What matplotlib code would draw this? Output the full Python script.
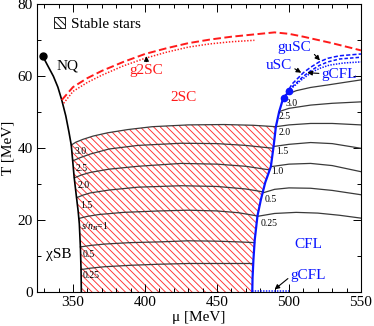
import numpy as np
import matplotlib
matplotlib.use("Agg")
import matplotlib.pyplot as plt
from matplotlib.patches import Patch

plt.rcParams['font.family'] = ['Liberation Serif', 'DejaVu Serif']
plt.rcParams['mathtext.fontset'] = 'custom'
plt.rcParams['mathtext.rm'] = 'Liberation Serif'
plt.rcParams['mathtext.it'] = 'Liberation Serif:italic'
plt.rcParams['hatch.linewidth'] = 0.65
plt.rcParams['lines.scale_dashes'] = False

# ---------------- data ----------------
# NQ / chiral transition line (black)
nq_mu = np.array([329, 332, 336.4, 339.5, 342.2, 345, 347.2, 348.8, 349.8, 350.8, 352.4, 353.6, 354.4, 355.2, 355.6, 355.8])
nq_T = np.array([65.6, 63.3, 60, 57, 53.4, 49, 44.5, 40.9, 36.5, 32, 26.5, 22.5, 19, 12, 6, 0])

# 2SC boundary (red dashed) and g2SC (red dotted)
sc2_mu = np.array([342.2, 350, 360, 370, 385, 400, 415, 430, 445, 460, 475, 490, 500, 510, 520, 530, 540, 550])
sc2_T = np.array([53.4, 57, 59.5, 61.5, 64, 66.2, 67.8, 69.2, 70.2, 71, 71.6, 72.2, 71.8, 71.0, 70.1, 69.2, 68.2, 67.2])
g2sc_mu = np.array([343.5, 350, 360, 370, 385, 400, 415, 430, 445, 460, 476])
g2sc_T = np.array([52.5, 55.8, 58.3, 60.3, 62.9, 65.0, 66.7, 68.1, 69.0, 69.6, 70.0])

# CFL boundary (blue solid)
cfl_mu = np.array([474.5, 474.7, 475.3, 476.2, 478.1, 480.4, 483.5, 487.4, 489.3, 490.9, 493.2, 495.6, 496.3, 500.2])
cfl_T = np.array([0, 4, 9, 14.5, 21.2, 25.6, 30.5, 34.9, 40.5, 46, 50.2, 53.4, 54.0, 55.9])
dots_mu = [496.3, 500.2]
dots_T = [54.0, 55.9]

# guSC / uSC / gCFL lines (blue)
gusc_mu = np.array([500.2, 502, 505, 510, 515, 521, 527, 535, 550])
gusc_T = np.array([56.5, 57.8, 59.0, 61.0, 62.5, 64.0, 65.0, 65.7, 66.2])
usc_mu = np.array([499.5, 502, 505, 510, 515, 521, 527, 535, 550])
usc_T = np.array([55.9, 57.0, 58.1, 60.0, 61.5, 63.0, 64.0, 64.8, 65.3])
gcfl_mu = np.array([498, 500, 503.4, 508, 516, 522, 528, 538, 550])
gcfl_T = np.array([55.5, 56.2, 57.2, 58.8, 61.2, 62.3, 63.1, 63.7, 64.0])
gcfl0_mu = np.array([474.5, 500])
gcfl0_T = np.array([0.4, 0.4])

# isentropes in the hatched (stable stars) region, s/n_B values
left_labels = ["3.0", "2.5", "2.0", "1.5", "$s/n_B$=1", "0.5", "0.25"]
left_mu = [
    [348.8, 352, 357, 364, 374, 388, 405, 430, 455, 475, 490.9],
    [349.8, 355, 362, 375, 395, 425, 450, 470, 489.1],
    [351.0, 356, 362, 375, 395, 425, 450, 470, 486.5],
    [352.6, 357, 362, 375, 395, 425, 450, 470, 482.0],
    [354.0, 360, 368, 385, 410, 430, 450, 465, 478.1],
    [355.1, 362, 372, 390, 410, 430, 450, 465, 476.1],
    [355.6, 362, 372, 390, 410, 430, 450, 475.2],
]
left_T = [
    [40.9, 41.7, 42.5, 43.4, 44.3, 45.2, 46.0, 46.5, 46.6, 46.4, 46.0],
    [36.5, 37.4, 38.4, 39.8, 40.8, 41.4, 41.3, 40.8, 40.0],
    [31.8, 32.6, 33.3, 34.2, 35.0, 35.8, 35.6, 35.0, 34.0],
    [26.3, 27.0, 27.6, 28.4, 29.2, 29.6, 29.4, 28.7, 27.9],
    [20.5, 21.1, 21.6, 22.2, 22.6, 22.8, 22.6, 22.1, 21.2],
    [12.6, 13.0, 13.4, 13.8, 14.0, 14.3, 14.2, 14.0, 13.8],
    [6.3, 6.7, 7.1, 7.5, 7.8, 8.0, 8.0, 8.0],
]
left_lab_mu = [351.0, 352.0, 353.5, 355.0, 355.8, 357.0, 357.0]
left_lab_T = [39.1, 34.4, 29.8, 24.2, 18.2, 10.4, 4.8]

# isentropes in the CFL region
right_labels = ["3.0", "2.5", "2.0", "1.5", "1.0", "0.5", "0.25"]
right_mu = [
    [497.5, 505, 515, 527, 540, 550],
    [493.2, 500, 515, 530, 550],
    [490.9, 500, 515, 530, 550],
    [489.3, 500, 515, 530, 550],
    [487.4, 500, 515, 530, 550],
    [481.7, 490, 500, 515, 530, 550],
    [478.1, 490, 505, 520, 535, 550],
]
right_T = [
    [54.8, 56.0, 56.9, 57.6, 58.4, 59.0],
    [50.2, 51.1, 52.0, 52.5, 52.9],
    [46.0, 46.5, 46.9, 46.9, 46.5],
    [40.5, 41.1, 41.6, 41.3, 40.0],
    [34.9, 35.6, 35.8, 35.2, 33.5],
    [27.6, 28.6, 29.0, 28.9, 28.3, 27.1],
    [21.1, 21.9, 22.2, 22.0, 21.4, 20.6],
]
right_lab_mu = [497.9, 493.0, 493.0, 491.0, 487.5, 483.0, 480.5]
right_lab_T = [52.5, 48.7, 44.4, 39.0, 33.6, 25.7, 19.2]

# ---------------- figure ----------------
fig = plt.figure(figsize=(3.74, 3.26), dpi=100)
ax = fig.add_axes([0.0989, 0.1034, 0.8663, 0.8834])

# hatched stable-star region: top isentrope, CFL line, T=0, NQ line
top_mu = np.array(left_mu[0]); top_T = np.array(left_T[0])
m_cfl = cfl_T <= top_T[-1]
m_nq = nq_T <= top_T[0]
poly_mu = np.concatenate([top_mu, cfl_mu[m_cfl][::-1], nq_mu[m_nq][::-1]])
poly_T = np.concatenate([top_T, cfl_T[m_cfl][::-1], nq_T[m_nq][::-1]])
ax.fill(poly_mu, poly_T, facecolor='none', edgecolor='#ff3030', lw=0,
        hatch='\\\\\\\\\\', zorder=1)

iso_kw = dict(color='#3a3a3a', lw=0.9, zorder=2)
for mu_i, T_i, lab, lm, lt in zip(left_mu, left_T, left_labels, left_lab_mu, left_lab_T):
    ax.plot(mu_i, T_i, **iso_kw)
    ax.text(lm, lt, lab, fontsize=7, ha='left', va='center', zorder=4)
for mu_i, T_i, lab, lm, lt in zip(right_mu, right_T, right_labels, right_lab_mu, right_lab_T):
    ax.plot(mu_i, T_i, **iso_kw)
    ax.text(lm, lt, lab, fontsize=7, ha='left', va='center', zorder=4)

# phase boundaries
ax.plot(nq_mu, nq_T, color='black', lw=1.2, zorder=3)
ax.plot(nq_mu[:1], nq_T[:1], 'o', color='black', ms=5, zorder=5)
ax.plot(sc2_mu, sc2_T, color='#ff1a1a', lw=1.4, ls=(0, (5.5, 2.5)), zorder=3)
ax.plot(g2sc_mu, g2sc_T, color='#ff1a1a', lw=1.1, ls=(0, (1.0, 1.2)), zorder=3)
ax.plot(cfl_mu, cfl_T, color='#0a14ff', lw=1.6, zorder=3)
ax.plot(dots_mu, dots_T, 'o', color='#0a14ff', ms=4.5, zorder=5)
ax.plot(gusc_mu, gusc_T, color='#0a14ff', lw=1.1, ls=(0, (3, 1.5)), zorder=3)
ax.plot(usc_mu, usc_T, color='#0a14ff', lw=1.1, ls=(0, (2.5, 1.5)), zorder=3)
ax.plot(gcfl_mu, gcfl_T, color='#0a14ff', lw=1.1, ls=(0, (1.0, 1.0)), zorder=3)
ax.plot(gcfl0_mu, gcfl0_T, color='#0a14ff', lw=1.1, ls=(0, (1.0, 1.0)), zorder=3)

# region labels
fs = 11
red = '#ff1a1a'; blue = '#0a14ff'
ax.text(346.5, 63.0, 'NQ', fontsize=fs, ha='center', va='center')
ax.text(427, 54.2, '2SC', fontsize=fs, ha='center', va='center', color=red)
ax.text(340, 10.5, 'χSB', fontsize=fs, ha='center', va='center')
ax.text(513.5, 13.3, 'CFL', fontsize=fs, ha='center', va='center', color=blue)

arrow = dict(arrowstyle='-|>', color='black', lw=0.8, mutation_scale=7, shrinkA=0, shrinkB=0)
ax.annotate('g2SC', xy=(401, 65.6), xytext=(401, 61.5), fontsize=fs, color=red,
            ha='center', va='center', arrowprops=arrow)
ax.annotate('gCFL', xy=(490, 0.8), xytext=(513.5, 4.8), fontsize=fs, color=blue,
            ha='center', va='center', arrowprops=dict(arrow, relpos=(0.0, 0.4)))
ax.annotate('guSC', xy=(521.5, 64.4), xytext=(504, 68.0), fontsize=fs, color=blue,
            ha='center', va='center', arrowprops=dict(arrow, relpos=(1.0, 0.2)))
ax.annotate('uSC', xy=(508.5, 61.0), xytext=(493, 62.9), fontsize=fs, color=blue,
            ha='center', va='center', arrowprops=dict(arrow, relpos=(1.0, 0.4)))
ax.annotate('gCFL', xy=(512.7, 61.0), xytext=(535, 60.4), fontsize=fs, color=blue,
            ha='center', va='center', arrowprops=dict(arrow, relpos=(0.0, 0.6)))

# legend
leg_handle = Patch(facecolor='white', edgecolor='black', lw=0.6, hatch='\\\\\\\\\\')
ax.legend(handles=[leg_handle], labels=['Stable stars'], loc='upper left',
          bbox_to_anchor=(0.052, 0.955), frameon=False, fontsize=fs,
          handlelength=0.7, handleheight=0.75, handletextpad=0.45,
          borderaxespad=0, borderpad=0)

# axes
ax.set_xlim(325, 550)
ax.set_ylim(0, 80)
ax.set_xticks([350, 400, 450, 500, 550])
ax.set_xticks(np.arange(330, 551, 10), minor=True)
ax.set_yticks([0, 20, 40, 60, 80])
ax.set_yticks(np.arange(0, 81, 10), minor=True)
ax.tick_params(which='both', direction='in', top=True, right=True, labelsize=fs, width=0.7)
ax.tick_params(which='major', length=5.5, pad=3)
ax.tick_params(which='minor', length=2.7)
for s in ax.spines.values():
    s.set_linewidth(0.8)
ax.set_xlabel('μ [MeV]', fontsize=fs, labelpad=1)
ax.set_ylabel('T [MeV]', fontsize=fs, labelpad=2)

fig.savefig('out.png', dpi=100)
